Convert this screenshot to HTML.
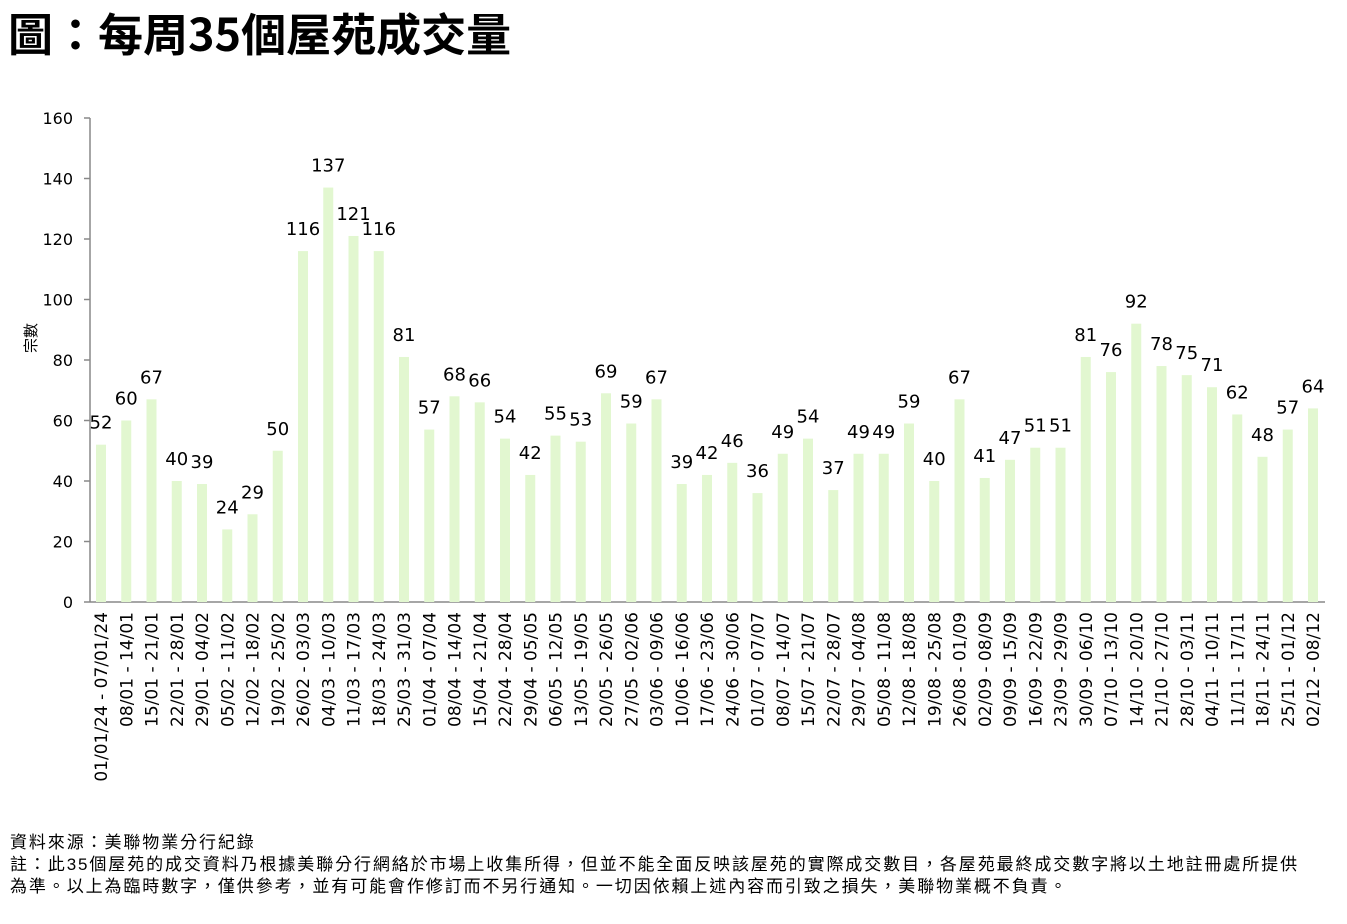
<!DOCTYPE html>
<html><head><meta charset="utf-8"><style>
body{margin:0;background:#fff;width:1347px;height:920px;overflow:hidden;font-family:"DejaVu Sans","Liberation Sans","Noto Sans CJK TC",sans-serif;}
</style></head><body>
<svg id="s" width="1347" height="920" xmlns="http://www.w3.org/2000/svg">
<text x="8" y="51" font-size="45" font-weight="bold" font-family="'Noto Sans CJK TC',sans-serif" fill="#000">圖：每周35個屋苑成交量</text>
<text transform="translate(36,338) rotate(-90)" font-size="15" text-anchor="middle" font-family="'Noto Sans CJK TC',sans-serif">宗數</text>
<g font-family="'Liberation Sans','Noto Sans CJK TC',sans-serif" font-size="17" letter-spacing="1.9" fill="#000">
<text x="10" y="848">資料來源：美聯物業分行紀錄</text>
<text x="10" y="870">註：此35個屋苑的成交資料乃根據美聯分行網絡於市場上收集所得，但並不能全面反映該屋苑的實際成交數目，各屋苑最終成交數字將以土地註冊處所提供</text>
<text x="10" y="892">為準。以上為臨時數字，僅供參考，並有可能會作修訂而不另行通知。一切因依賴上述內容而引致之損失，美聯物業概不負責。</text>
</g>
<g id="c"></g>
</svg>
<script>
(function(){
var v=[52,60,67,40,39,24,29,50,116,137,121,116,81,57,68,66,54,42,55,53,69,59,67,39,42,46,36,49,54,37,49,49,59,40,67,41,47,51,51,81,76,92,78,75,71,62,48,57,64];
var y0=602,k=(602-118)/160,x0=101,dx=25.25,h='';
h+='<line x1="90" y1="118" x2="90" y2="602" stroke="#888" stroke-width="1.5"/>';
h+='<line x1="90" y1="602" x2="1325" y2="602" stroke="#888" stroke-width="1.5"/>';
for(var t=0;t<=160;t+=20){var y=y0-t*k;h+='<line x1="84" y1="'+y+'" x2="90" y2="'+y+'" stroke="#888" stroke-width="1.5"/>';h+='<text x="73" y="'+(y+6)+'" font-size="16" text-anchor="end">'+t+'</text>';}
function p(n){return (n<10?'0':'')+n}
var d=new Date(2024,0,1);
for(var i=0;i<v.length;i++){var cx=x0+i*dx,ty=y0-v[i]*k;
h+='<rect x="'+(cx-5)+'" y="'+ty+'" width="10" height="'+(y0-ty)+'" fill="#e2f7d0"/>';
h+='<text x="'+cx+'" y="'+(ty-16)+'" font-size="18" text-anchor="middle">'+v[i]+'</text>';
var e=new Date(d.getTime()+6*864e5);
var l=p(d.getDate())+'/'+p(d.getMonth()+1)+(i==0?'/24':'')+' - '+p(e.getDate())+'/'+p(e.getMonth()+1)+(i==0?'/24':'');
h+='<text transform="translate('+(cx+6)+',612) rotate(-90)" font-size="17" text-anchor="end">'+l+'</text>';
d=new Date(d.getTime()+7*864e5);}
document.getElementById('c').innerHTML=h;
})();
</script>
</body></html>
